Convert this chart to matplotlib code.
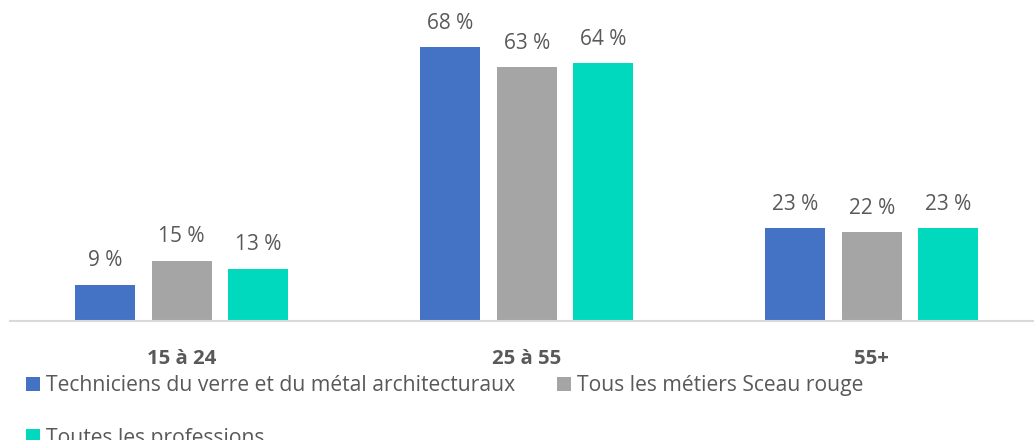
import numpy as np
import matplotlib
matplotlib.use("Agg")
import matplotlib.pyplot as plt

categories = ["15 à 24", "25 à 55", "55+"]
series_names = ["Techniciens du verre et du métal architecturaux",
                "Tous les métiers Sceau rouge",
                "Toutes les professions"]
vals_techniciens = [9, 68, 23]
vals_sceau_rouge = [15, 63, 22]
vals_toutes = [13, 64, 23]

colors = ["#4472C4", "#A5A5A5", "#00D9BE"]
txt = "#595959"
plt.rcParams["font.family"] = ["Open Sans", "DejaVu Sans"]

fig = plt.figure(figsize=(10.34, 4.4), dpi=100)
ax = fig.add_axes([10 / 1034, 119 / 440, 1024 / 1034, 322 / 440])

x = np.arange(len(categories))
w, step = 0.174, 0.222
bars = []
for i, (name, vals) in enumerate(zip(series_names, [vals_techniciens, vals_sceau_rouge, vals_toutes])):
    pos = x + (i - 1) * step
    bars.append(ax.bar(pos, vals, width=w, color=colors[i], label=name))
    for p, v in zip(pos, vals):
        ax.text(p, v + 3.3, f"{v} %", ha="center", va="bottom", fontsize=15, color=txt)

ax.set_xlim(-0.497, 2.47)
ax.set_ylim(0, 80)
ax.set_yticks([])
ax.set_xticks(x)
ax.set_xticklabels(categories, fontsize=14.7, fontweight="bold", color=txt)
ax.tick_params(axis="x", length=0, pad=20)
for s in ["top", "right", "left"]:
    ax.spines[s].set_visible(False)
ax.spines["bottom"].set_color("#D9D9D9")
ax.spines["bottom"].set_linewidth(1.5)

# ordre pour remplir ligne par ligne avec ncol=2
order = [0, 2, 1]
fig.legend([bars[k] for k in order], [series_names[k] for k in order],
           loc="upper left", bbox_to_anchor=(26 / 1034, 1 - 375 / 440), ncol=2, frameon=False,
           fontsize=15.2, labelcolor=txt, handlelength=0.65, handleheight=0.65, handletextpad=0.3,
           columnspacing=2.0, labelspacing=1.5, borderaxespad=0, borderpad=0)

fig.savefig("out.png", dpi=100)
